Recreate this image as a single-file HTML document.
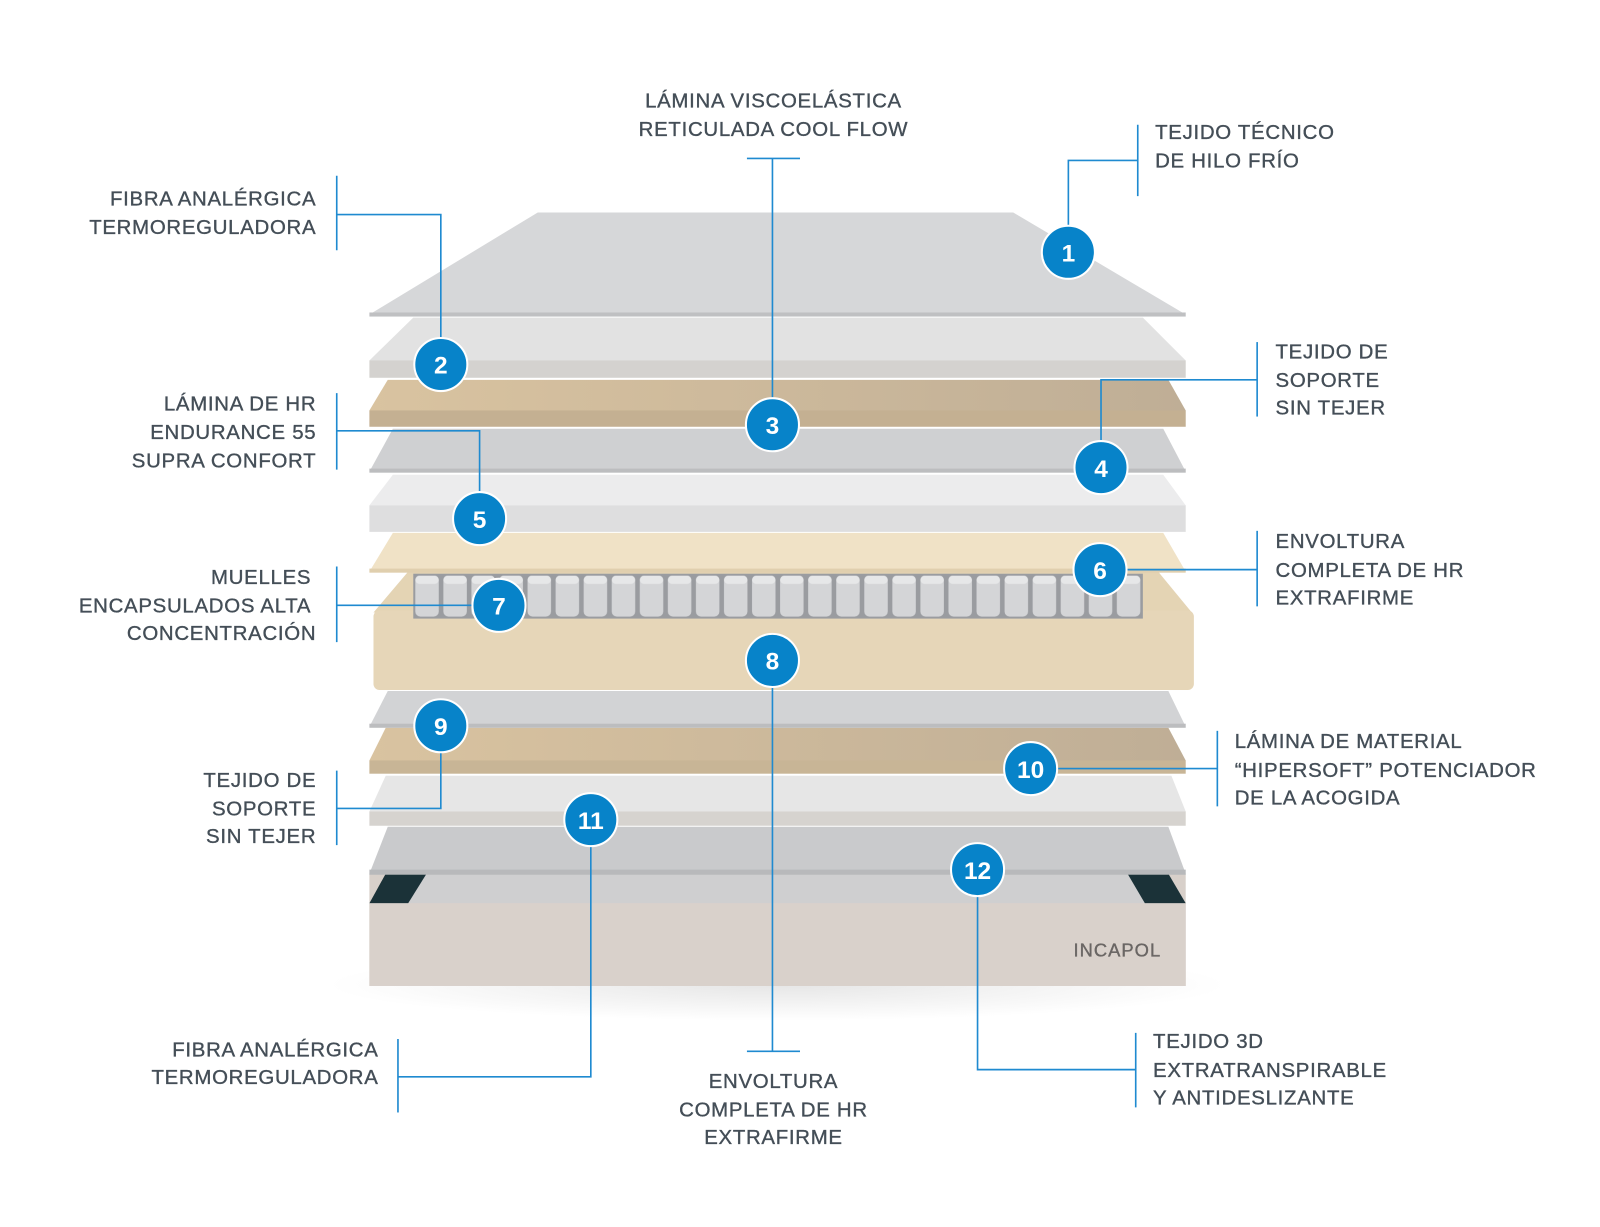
<!DOCTYPE html>
<html><head><meta charset="utf-8"><style>
html,body{margin:0;padding:0;background:#fff;}
svg{display:block;}
text{font-family:"Liberation Sans",sans-serif;font-size:20px;fill:#444e57;letter-spacing:0.7px;stroke:#444e57;stroke-width:0.35px;}
.n{font-family:"Liberation Sans",sans-serif;font-weight:bold;font-size:24px;fill:#fff;stroke:none;text-anchor:middle;letter-spacing:0;}
</style></head><body>
<svg width="1600" height="1227" viewBox="0 0 1568 1202" xmlns="http://www.w3.org/2000/svg">
<defs>
<pattern id="spr" x="405" y="562" width="27.5" height="44" patternUnits="userSpaceOnUse">
<rect x="0" y="0" width="27.5" height="44" fill="#9a9ca0"/>
<rect x="2" y="2" width="23" height="40" rx="5" fill="#d4d5d7"/>
<rect x="2" y="2" width="23" height="8" rx="4" fill="#e6e7e8"/>
</pattern>
<linearGradient id="tan" x1="0" x2="1"><stop offset="0" stop-color="#d9c3a0"/><stop offset="1" stop-color="#bfae96"/></linearGradient>
<radialGradient id="sh" cx="0.5" cy="0.5" r="0.5"><stop offset="0" stop-color="#e6e6e6"/><stop offset="1" stop-color="#fff"/></radialGradient>
</defs>
<rect width="1568" height="1202" fill="#fff"/>
<ellipse cx="762" cy="965" rx="440" ry="35" fill="url(#sh)"/>
<rect x="362" y="856" width="800" height="110" fill="#d8d0ca"/>
<polygon points="362,885 380,856 1145,856 1162,885" fill="#cfcfd0"/>
<polygon points="362,885 378,856 418,856 400,885" fill="#1b3238"/>
<polygon points="1162,885 1145,856 1105,856 1122,885" fill="#1b3238"/>
<rect x="362" y="885" width="800" height="81" fill="#d9d1cb"/>
<text x="1052" y="937" style="font-size:18px;fill:#6a6664;stroke:#6a6664;letter-spacing:1px">INCAPOL</text>
<polygon points="362,856 380,810 1145,810 1162,856" fill="#c9cacc"/>
<rect x="362" y="852" width="800" height="5" fill="#b8b9bb"/>
<polygon points="362,795 378,760 1148,760 1162,795" fill="#e6e6e6"/>
<rect x="362" y="795" width="800" height="14" fill="#d6d3cf"/>
<polygon points="362,745 378,713 1145,713 1162,745" fill="url(#tan)"/>
<rect x="362" y="745" width="800" height="13" fill="#c8b596"/>
<polygon points="362,712 380,677 1145,677 1162,712" fill="#d2d3d5"/>
<rect x="362" y="709" width="800" height="4" fill="#bcbdbf"/>
<polygon points="366,600 400,560 1135,560 1168,600" fill="#e4d4b4"/>
<rect x="366" y="598" width="804" height="78" rx="6" fill="#e6d6b8"/>
<rect x="405" y="562" width="715" height="44" fill="url(#spr)"/>
<polygon points="362,560 385,522 1140,522 1162,560" fill="#f0e2c6"/>
<rect x="362" y="557" width="800" height="4" fill="#e0cfae"/>
<polygon points="362,495 385,465 1140,465 1162,495" fill="#ececed"/>
<rect x="362" y="495" width="800" height="26" fill="#dededf"/>
<polygon points="362,462 385,420 1140,420 1162,462" fill="#cfd0d2"/>
<rect x="362" y="459" width="800" height="4" fill="#bcbdbf"/>
<polygon points="362,402 380,372 1145,372 1162,402" fill="url(#tan)"/>
<rect x="362" y="402" width="800" height="16" fill="#c4b092"/>
<polygon points="362,353 405,311 1120,311 1162,353" fill="#e2e2e2"/>
<rect x="362" y="353" width="800" height="17" fill="#d4d2cf"/>
<polygon points="362,308 527,208 993,208 1162,308" fill="#d6d7d9"/>
<rect x="362" y="306" width="800" height="4" fill="#bfc0c2"/>

<g stroke="#1f8ad0" stroke-width="1.6" fill="none">
<polyline points="1047,247 1047,157 1115,157"/><line x1="1115" y1="122" x2="1115" y2="192"/>
<polyline points="432,357 432,210 330,210"/><line x1="330" y1="172" x2="330" y2="245"/>
<line x1="757" y1="155" x2="757" y2="416"/><line x1="732" y1="155" x2="784" y2="155"/>
<polyline points="1079,458 1079,372 1232,372"/><line x1="1232" y1="335" x2="1232" y2="408"/>
<polyline points="470,508 470,422 330,422"/><line x1="330" y1="385" x2="330" y2="460"/>
<polyline points="1078,558 1232,558"/><line x1="1232" y1="520" x2="1232" y2="594"/>
<polyline points="489,593 330,593"/><line x1="330" y1="555" x2="330" y2="629"/>
<line x1="757" y1="647" x2="757" y2="1030"/><line x1="732" y1="1030" x2="784" y2="1030"/>
<polyline points="432,711 432,792 330,792"/><line x1="330" y1="755" x2="330" y2="828"/>
<polyline points="1010,753 1193,753"/><line x1="1193" y1="716" x2="1193" y2="790"/>
<polyline points="579,803 579,1055 390,1055"/><line x1="390" y1="1018" x2="390" y2="1090"/>
<polyline points="958,852 958,1048 1113,1048"/><line x1="1113" y1="1012" x2="1113" y2="1085"/>
</g>
<g fill="#0783c9" stroke="#fff" stroke-width="2">
<circle cx="1047" cy="247" r="26"/><circle cx="432" cy="357" r="26"/><circle cx="757" cy="416" r="26"/>
<circle cx="1079" cy="458" r="26"/><circle cx="470" cy="508" r="26"/><circle cx="1078" cy="558" r="26"/>
<circle cx="489" cy="593" r="26"/><circle cx="757" cy="647" r="26"/><circle cx="432" cy="711" r="26"/>
<circle cx="1010" cy="753" r="26"/><circle cx="579" cy="803" r="26"/><circle cx="958" cy="852" r="26"/>
</g>
<text class="n" x="1047" y="256">1</text><text class="n" x="432" y="366">2</text><text class="n" x="757" y="425">3</text>
<text class="n" x="1079" y="467">4</text><text class="n" x="470" y="517">5</text><text class="n" x="1078" y="567">6</text>
<text class="n" x="489" y="602">7</text><text class="n" x="757" y="656">8</text><text class="n" x="432" y="720">9</text>
<text class="n" x="1010" y="762">10</text><text class="n" x="579" y="812">11</text><text class="n" x="958" y="861">12</text>

<g text-anchor="middle">
<text x="758" y="105">LÁMINA VISCOELÁSTICA</text><text x="758" y="133">RETICULADA COOL FLOW</text>
<text x="758" y="1066">ENVOLTURA</text><text x="758" y="1094">COMPLETA DE HR</text><text x="758" y="1121">EXTRAFIRME</text>
</g>
<g text-anchor="end">
<text x="310" y="201">FIBRA ANALÉRGICA</text><text x="310" y="229">TERMOREGULADORA</text>
<text x="310" y="402">LÁMINA DE HR</text><text x="310" y="430">ENDURANCE 55</text><text x="310" y="458">SUPRA CONFORT</text>
<text x="305" y="572">MUELLES</text><text x="305" y="600">ENCAPSULADOS ALTA</text><text x="310" y="627">CONCENTRACIÓN</text>
<text x="310" y="771">TEJIDO DE</text><text x="310" y="799">SOPORTE</text><text x="310" y="826">SIN TEJER</text>
<text x="371" y="1035">FIBRA ANALÉRGICA</text><text x="371" y="1062">TERMOREGULADORA</text>
</g>
<text x="1132" y="136">TEJIDO TÉCNICO</text><text x="1132" y="164">DE HILO FRÍO</text>
<text x="1250" y="351">TEJIDO DE</text><text x="1250" y="379">SOPORTE</text><text x="1250" y="406">SIN TEJER</text>
<text x="1250" y="537">ENVOLTURA</text><text x="1250" y="565">COMPLETA DE HR</text><text x="1250" y="592">EXTRAFIRME</text>
<text x="1210" y="733">LÁMINA DE MATERIAL</text><text x="1210" y="761">“HIPERSOFT” POTENCIADOR</text><text x="1210" y="788">DE LA ACOGIDA</text>
<text x="1130" y="1027">TEJIDO 3D</text><text x="1130" y="1055">EXTRATRANSPIRABLE</text><text x="1130" y="1082">Y ANTIDESLIZANTE</text>
</svg>
</body></html>
